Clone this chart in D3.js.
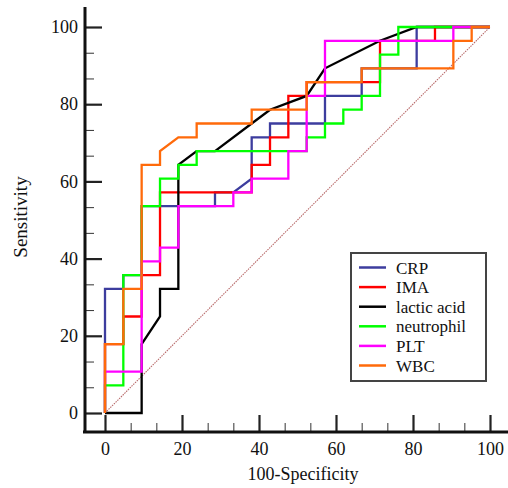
<!DOCTYPE html>
<html>
<head>
<meta charset="utf-8">
<script src="https://cdn.jsdelivr.net/npm/d3@7"></script>
<style>
  body { margin: 0; background: #fff; }
  svg text { font-family: "Liberation Serif", "Times New Roman", serif; fill: #111; }
</style>
</head>
<body>
<div id="chart"></div>
<script>
// ROC curves (x = 100-specificity, y = sensitivity, both in %)
var seriesNames = ["CRP", "IMA", "lactic acid", "neutrophil", "PLT", "WBC"];
var seriesColors = ["#3d3d9e", "#ff0000", "#000000", "#00ff00", "#ff00ff", "#ff6a0a"];

var crpX = [0, 0, 4.76, 4.76, 9.52, 9.52, 28.57, 28.57, 33.33, 38.1, 38.1, 42.86, 42.86, 57.14, 57.14, 66.67, 66.67, 80.95, 80.95, 100];
var crpY = [0, 32.14, 32.14, 35.71, 35.71, 53.57, 53.57, 57.14, 57.14, 60.71, 71.43, 71.43, 75, 75, 82.14, 82.14, 89.29, 89.29, 100, 100];

var imaX = [0, 0, 4.76, 4.76, 9.52, 9.52, 14.29, 14.29, 38.1, 38.1, 42.86, 42.86, 47.62, 47.62, 52.38, 52.38, 71.43, 71.43, 85.71, 85.71, 100];
var imaY = [0, 17.86, 17.86, 25, 25, 35.71, 35.71, 57.14, 57.14, 64.29, 64.29, 71.43, 71.43, 82.14, 82.14, 85.71, 85.71, 96.43, 96.43, 100, 100];

var lacticX = [0, 9.52, 9.52, 14.29, 14.29, 19.05, 19.05, 23.81, 28.57, 38.1, 42.86, 52.38, 57.14, 71.43, 80.95, 100];
var lacticY = [0, 0, 17.86, 25, 32.14, 32.14, 64.29, 67.86, 67.86, 75, 78.57, 82.14, 89.29, 96.43, 100, 100];

var neutroX = [0, 0, 4.76, 4.76, 9.52, 9.52, 14.29, 14.29, 19.05, 19.05, 23.81, 23.81, 52.38, 52.38, 57.14, 57.14, 61.9, 61.9, 66.67, 66.67, 71.43, 71.43, 76.19, 76.19, 100];
var neutroY = [0, 7.14, 7.14, 35.71, 35.71, 53.57, 53.57, 60.71, 60.71, 64.29, 64.29, 67.86, 67.86, 71.43, 71.43, 75, 75, 78.57, 78.57, 82.14, 82.14, 92.86, 92.86, 100, 100];

var pltX = [0, 0, 9.52, 9.52, 14.29, 14.29, 19.05, 19.05, 33.33, 33.33, 38.1, 38.1, 47.62, 47.62, 52.38, 52.38, 57.14, 57.14, 90.48, 90.48, 100];
var pltY = [0, 10.71, 10.71, 39.29, 39.29, 42.86, 42.86, 53.57, 53.57, 57.14, 57.14, 60.71, 60.71, 67.86, 67.86, 82.14, 82.14, 96.43, 96.43, 100, 100];

var wbcX = [0, 0, 4.76, 4.76, 9.52, 9.52, 14.29, 14.29, 19.05, 23.81, 23.81, 38.1, 38.1, 52.38, 52.38, 66.67, 66.67, 90.48, 90.48, 95.24, 95.24, 100];
var wbcY = [0, 17.86, 17.86, 32.14, 32.14, 64.29, 64.29, 67.86, 71.43, 71.43, 75, 75, 78.57, 78.57, 85.71, 85.71, 89.29, 89.29, 96.43, 96.43, 100, 100];

var majorTicks = [0, 20, 40, 60, 80, 100];

var width = 508, height = 488;

var svg = d3.select("#chart")
    .append("svg")
    .attr("width", width)
    .attr("height", height);

var x = d3.scaleLinear().domain([0, 100]).range([105, 490]);
var y = d3.scaleLinear().domain([0, 100]).range([413, 27]);

var axisY = 432, axisX = 85;

// minor tick positions: two between every major tick
var minorTicks = [];
for (var i = 0; i < majorTicks.length - 1; i++) {
    minorTicks.push(majorTicks[i] + 20 / 3, majorTicks[i] + 40 / 3);
}

// x axis
var gx = svg.append("g").attr("transform", "translate(0," + axisY + ")");
gx.call(d3.axisBottom(x).tickValues(majorTicks).tickSize(-17).tickPadding(10));
gx.select(".domain").remove();
gx.selectAll(".tick line").attr("stroke", "#222").attr("stroke-width", 2.2);
gx.selectAll(".tick text").style("font-size", "18px");

var gxm = svg.append("g").attr("transform", "translate(0," + axisY + ")");
gxm.call(d3.axisBottom(x).tickValues(minorTicks).tickSize(-9).tickFormat(""));
gxm.select(".domain").remove();
gxm.selectAll(".tick line").attr("stroke", "#333").attr("stroke-width", 1);

// y axis
var gy = svg.append("g").attr("transform", "translate(" + axisX + ",0)");
gy.call(d3.axisLeft(y).tickValues(majorTicks).tickSize(-17).tickPadding(7));
gy.select(".domain").remove();
gy.selectAll(".tick line").attr("stroke", "#222").attr("stroke-width", 2.2);
gy.selectAll(".tick text").style("font-size", "18px");

var gym = svg.append("g").attr("transform", "translate(" + axisX + ",0)");
gym.call(d3.axisLeft(y).tickValues(minorTicks).tickSize(-9).tickFormat(""));
gym.select(".domain").remove();
gym.selectAll(".tick line").attr("stroke", "#333").attr("stroke-width", 1);

// axis lines
svg.append("line")
    .attr("x1", 83).attr("x2", width)
    .attr("y1", axisY).attr("y2", axisY)
    .attr("stroke", "#111").attr("stroke-width", 3);
svg.append("line")
    .attr("x1", axisX).attr("x2", axisX)
    .attr("y1", 7).attr("y2", axisY + 1)
    .attr("stroke", "#111").attr("stroke-width", 3);

// axis titles
svg.append("text")
    .attr("x", 303).attr("y", 480)
    .attr("text-anchor", "middle")
    .style("font-size", "18px")
    .text("100-Specificity");

svg.append("text")
    .attr("transform", "translate(27,217) rotate(-90)")
    .attr("text-anchor", "middle")
    .style("font-size", "19px")
    .text("Sensitivity");

// reference diagonal
svg.append("line")
    .attr("x1", x(0)).attr("y1", y(0))
    .attr("x2", x(100)).attr("y2", y(100))
    .attr("stroke", "#b86a6a")
    .attr("stroke-width", 1.1)
    .attr("stroke-dasharray", "1.5,1");

// curves
var seriesX = [crpX, imaX, lacticX, neutroX, pltX, wbcX];
var seriesY = [crpY, imaY, lacticY, neutroY, pltY, wbcY];

var line = d3.line()
    .x(function (d) { return x(d[0]); })
    .y(function (d) { return y(d[1]); });

seriesNames.forEach(function (name, idx) {
    var pts = seriesX[idx].map(function (v, j) { return [v, seriesY[idx][j]]; });
    svg.append("path")
        .datum(pts)
        .attr("d", line)
        .attr("fill", "none")
        .attr("stroke", seriesColors[idx])
        .attr("stroke-width", 2.3);
});

// legend
var lg = svg.append("g").attr("transform", "translate(351,253)");
lg.append("rect")
    .attr("width", 135).attr("height", 128)
    .attr("fill", "#fff")
    .attr("stroke", "#444")
    .attr("stroke-width", 2);

var item = lg.selectAll(".D3Legend")
    .data(seriesNames)
    .enter().append("g")
    .attr("class", "D3Legend")
    .attr("transform", function (d, idx) { return "translate(0," + (14.5 + idx * 19.6) + ")"; });

item.append("line")
    .attr("x1", 8).attr("x2", 35)
    .attr("stroke", function (d, idx) { return seriesColors[idx]; })
    .attr("stroke-width", 2.5);

item.append("text")
    .attr("x", 45).attr("y", 6)
    .style("font-size", "17px")
    .text(function (d) { return d; });
</script>
</body>
</html>
